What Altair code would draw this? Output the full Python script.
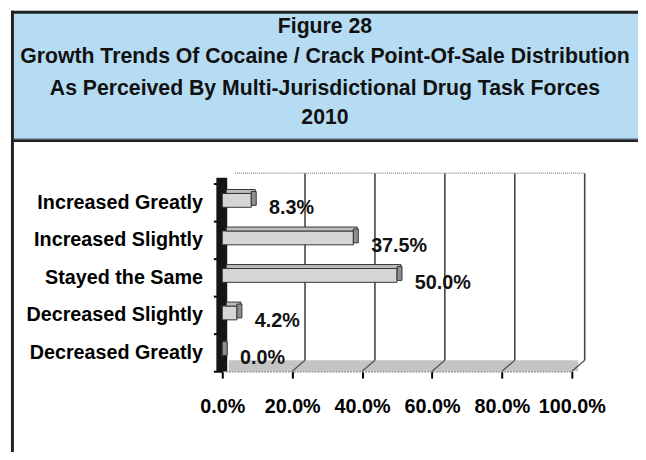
import altair as alt
import pandas as pd

categories = ["Increased Greatly", "Increased Slightly", "Stayed the Same",
              "Decreased Slightly", "Decreased Greatly"]
values = [8.3, 37.5, 50.0, 4.2, 0.0]
x_ticks = [0, 20, 40, 60, 80, 100]
title_lines = [
    "Figure 28",
    "Growth Trends Of Cocaine / Crack Point-Of-Sale Distribution",
    "As Perceived  By Multi-Jurisdictional Drug Task Forces",
    "2010",
]

FONT = "Liberation Sans"
W, H = 354, 190

df = pd.DataFrame({"cat": categories, "v": values})
df["label"] = [f"{v:.1f}%" for v in values]
grid_df = pd.DataFrame({"v": x_ticks[1:]})
one = pd.DataFrame({"k": [0]})

xscale = alt.Scale(domain=[0, 100], nice=False, zero=True)
yscale = alt.Scale(domain=categories, paddingInner=0, paddingOuter=0)

y_axis = alt.Axis(title=None, labelFont=FONT, labelFontSize=20, labelFontWeight="bold",
                  labelColor="black", labelPadding=11, tickBand="extent",
                  tickColor="black", tickSize=9, tickWidth=2, domain=False,
                  grid=False, labelLimit=300)
x_axis = alt.Axis(values=x_ticks, title=None,
                  labelExpr="format(datum.value, '.1f') + '%'",
                  labelFont=FONT, labelFontSize=20, labelFontWeight="bold",
                  labelColor="black", labelPadding=19, labelFlush=False,
                  labelOverlap=False, tickSize=7, tickWidth=2, tickColor="black",
                  domainColor="#8a8a8a", domainDash=[2, 1], domainWidth=1.5,
                  grid=False)

XQ = alt.X("v:Q", scale=xscale, axis=x_axis, title=None)
YN = alt.Y("cat:N", scale=yscale, sort=categories, axis=y_axis, title=None)

# frame & title box
blue = alt.Chart(one).mark_rect(fill="#b6dcf3").encode(
    x=alt.value(-214), x2=alt.value(430), y=alt.value(-175), y2=alt.value(-42))
top_border = alt.Chart(one).mark_rect(fill="#222222").encode(
    x=alt.value(-214), x2=alt.value(430), y=alt.value(-175), y2=alt.value(-172))
left_border = alt.Chart(one).mark_rect(fill="#222222").encode(
    x=alt.value(-214), x2=alt.value(-211), y=alt.value(-175), y2=alt.value(290))
sep = alt.Chart(one).mark_rect(fill="#222222").encode(
    x=alt.value(-211), x2=alt.value(430), y=alt.value(-45), y2=alt.value(-42))
sep2 = alt.Chart(one).mark_rect(fill="#6a8aa0").encode(
    x=alt.value(-211), x2=alt.value(430), y=alt.value(-46), y2=alt.value(-45))

title_y = [-159, -128, -96, -66]
title_layers = [
    alt.Chart(one).mark_text(text=line, font=FONT, fontSize=21.5, fontWeight="bold",
                             color="#111111", align="center", baseline="middle").encode(
        x=alt.value(104), y=alt.value(yy))
    for line, yy in zip(title_lines, title_y)
]

# 3D back wall / floor
floor = alt.Chart(one).mark_rect(fill="#c4c4c4").encode(
    x=alt.value(6.5), x2=alt.value(360.5), y=alt.value(179), y2=alt.value(190))
grid = alt.Chart(grid_df).mark_rule(color="#444444", strokeWidth=1.6, xOffset=13).encode(
    x=XQ, y=alt.value(-10.5), y2=alt.value(179))
floor_slant = alt.Chart(grid_df).mark_rule(color="#555555", strokeWidth=1.3, x2Offset=13).encode(
    x=XQ, x2=alt.X2("v"), y=alt.value(190), y2=alt.value(179))
top_line = alt.Chart(one).mark_rule(color="#999999", strokeDash=[1, 1], strokeWidth=1.5).encode(
    x=alt.value(13), x2=alt.value(367), y=alt.value(-10.5))
wall = alt.Chart(one).mark_rect(fill="#151515").encode(
    x=alt.value(-6), x2=alt.value(5), y=alt.value(-6), y2=alt.value(190))

# bars
front = alt.Chart(df).mark_bar(size=14, yOffset=-2, fill="#d6d6d6", stroke="#333333",
                               strokeWidth=1).encode(x=XQ, y=YN)
topface = alt.Chart(df).mark_bar(size=4, yOffset=-11, xOffset=4, x2Offset=4,
                                 fill="#bdbdbd", stroke="#333333", strokeWidth=1).encode(
    x=XQ, y=YN)
side = alt.Chart(df).mark_bar(size=14, yOffset=-4, x2Offset=5, fill="#8f8f8f",
                              stroke="#333333", strokeWidth=1).encode(
    x=XQ, x2=alt.X2("v"), y=YN)
labels = alt.Chart(df).mark_text(align="left", baseline="middle", dx=18, dy=6,
                                 font=FONT, fontSize=20, fontWeight="bold",
                                 color="#111111").encode(
    x=XQ, y=YN, text="label:N")

chart = alt.layer(
    blue, top_border, left_border, sep, sep2, *title_layers,
    floor, grid, floor_slant, top_line, wall, front, topface, side, labels
).properties(
    width=W, height=H,
    padding={"left": 217, "top": 175, "right": 67, "bottom": 79},
    autosize=alt.AutoSizeParams(type="none"),
    background="white",
).configure_view(strokeWidth=0)

chart.save("out.html", embed_options={"renderer": "svg", "actions": False})
